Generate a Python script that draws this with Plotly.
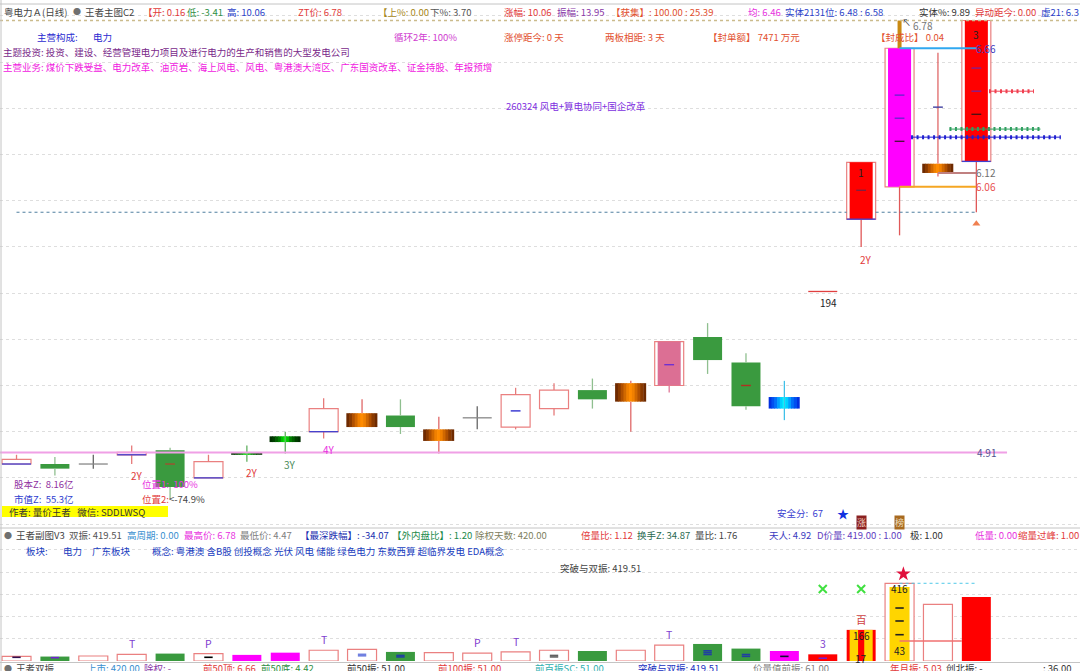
import plotly.graph_objects as go

# daily candles, prices
idx = list(range(26))
opens = [4.86, 4.86, 4.86, 4.90, 4.92, 4.80, 4.91, 4.98, 5.00, 5.02, 5.07, 4.96, 5.06, 5.02, 5.10, 5.18, 5.13, 5.20, 5.41, 5.30, 5.10, 5.607, 5.92, 6.06, 6.12, 6.17]
highs = [4.90, 4.89, 4.90, 4.94, 4.93, 4.90, 4.94, 5.00, 5.145, 5.14, 5.14, 5.065, 5.11, 5.19, 5.21, 5.23, 5.22, 5.39, 5.47, 5.34, 5.22, 5.607, 6.166, 6.78, 6.64, 6.78]
lows = [4.86, 4.81, 4.84, 4.86, 4.71, 4.80, 4.87, 4.905, 4.97, 5.02, 4.99, 4.905, 5.01, 5.01, 5.07, 5.10, 5.00, 5.17, 5.25, 5.095, 5.05, 5.607, 5.80, 5.85, 6.105, 5.95]
closes = [4.88, 4.84, 4.86, 4.91, 4.76, 4.87, 4.90, 4.955, 5.10, 5.08, 5.02, 5.01, 5.06, 5.16, 5.18, 5.14, 5.21, 5.39, 5.31, 5.11, 5.15, 5.607, 6.166, 6.66, 6.16, 6.78]
kinds = ["up", "down", "doji", "up", "down", "up", "ggrad", "ggrad", "up", "orange", "down", "orange", "doji", "up", "up", "down", "orange", "pink", "down", "down", "blue", "flat", "red", "magenta", "orange", "red"]

# little dashes inside the candles
dash_idx = [4, 13, 17, 19, 22, 23, 23, 23, 24, 25, 25, 25]
dash_price = [4.86, 5.09, 5.29, 5.20, 6.045, 6.457, 6.357, 6.257, 6.405, 6.574, 6.474, 6.374]
dash_color = ["#a05030", "#3030d0", "#7030d0", "#b03020", "#802040", "#7020d0", "#7020d0", "#501040", "#4040a0", "#802090", "#802090", "#501010"]

# bottom blue edge on these
blue_edge_idx = [0, 3, 5, 8, 22, 25]

# price levels: price, from, to
top_price = 6.78
support_price = 4.91
base_price = 5.95
level_price = [6.66, 6.06, 6.12]
level_from = [23, 23, 24]
level_to = [25, 25, 25]
level_color = ["#30a8f0", "#f5a623", "#c08080"]
mark_price = [6.474, 6.31, 6.275]
mark_from = [25.33, 24.3, 23.3]
mark_to = [26.5, 26.67, 27.2]
mark_color = ["#f04050", "#30a060", "#2020d0"]

# sub panel
volume = [25, 24, 27, 36, 40, 40, 33, 45, 58, 63, 49, 45, 43, 49, 58, 54, 58, 86, 92, 67, 54, 36, 168, 419.51, 306, 346]
vol_kinds = ["hollow", "green", "hollow", "hollow", "green", "hollow", "magenta", "magenta", "hollow", "hollow", "green", "hollow", "hollow", "hollow", "hollow", "green", "hollow", "hollow", "green", "green", "magenta", "red", "red", "hollow", "hollow", "red"]
inner_idx = [23]
inner_volume = [400]
vol_mark_idx = [3, 5, 8, 12, 13, 17, 21, 22]
vol_mark_text = ["T", "P", "T", "P", "T", "T", "3", "百"]
vol_dash_idx = [0, 1, 5, 9, 9, 10, 10, 14, 14, 18, 18, 18, 19, 19, 20, 21, 23, 23, 23]
vol_dash_val = [20, 18, 20, 36, 28, 30, 22, 30, 22, 55, 45, 35, 35, 25, 25, 15, 286, 216, 142]
vol_dash_color = ["#301050", "#7020d0", "#000000", "#7080e0", "#7080e0", "#2040a0", "#2040a0", "#606060", "#606060", "#2040a0", "#2040a0", "#2040a0", "#2040a0", "#2040a0", "#101030", "#7020d0", "#202020", "#202020", "#202020"]
cross_idx = [21, 22]
cross_val = [389, 389]
star_idx = [23.1]
star_val = [470]
ref_line_val = 108
peak_line_val = 419.51

RED = "#e23a3a"
ORANGE = "#e2502e"
BLUE = "#2b3fc8"
DARK = "#444444"
GREY = "#808080"
MAGENTA = "#e830e0"
PURPLE = "#8a3aa8"
GREEN = "#2f8f45"
FONT = "Noto Sans CJK SC"

BOX_W = 0.755
INNER_W = 0.6
GRAD_W = 0.8

wick_colors = {"up": "#e67a7a", "down": "#8fbf8f", "doji": "#666666", "orange": "#e06868", "ggrad": "#60b060",
               "blue": "#40c0e8", "pink": "#e07898", "red": "#e05858", "magenta": "#e05858"}
fills = {"pink": "#dc6f94", "red": "#ff0000", "magenta": "#ff00ff"}
gradients = {"orange": ["#6e2a00", "#8a3a00", "#b05000", "#d06800", "#f08000", "#ff8c00"],
             "ggrad": ["#003000", "#004000", "#006000", "#008000", "#00c000", "#00ff00"],
             "blue": ["#0030e0", "#0050f0", "#0070f8", "#00a0ff", "#00d0ff", "#00ffff"]}

fig = go.Figure()


def seg_trace(xs, ys, color, width, dash=None, yaxis="y"):
    fig.add_trace(go.Scatter(x=xs, y=ys, mode="lines", yaxis=yaxis, hoverinfo="skip",
                             line=dict(color=color, width=width, dash=dash)))


def label(px, py, text, color=DARK, size=9.5, **kw):
    fig.add_annotation(x=px / 1080, y=1 - py / 671, xref="paper", yref="paper", text=text, showarrow=False,
                       xanchor=kw.pop("xanchor", "left"), yanchor="middle", borderpad=0,
                       font=dict(family=FONT, size=size, color=kw.pop("fontcolor", color)), **kw)


# candle bodies
for kind in ["up", "down", "pink", "red", "magenta"]:
    sel = [i for i in idx if kinds[i] == kind]
    base = [min(opens[i], closes[i]) for i in sel]
    span = [abs(opens[i] - closes[i]) for i in sel]
    if kind == "down":
        fig.add_trace(go.Bar(x=sel, y=span, base=base, width=BOX_W, marker=dict(color="#3a9a3f", line=dict(width=0))))
        continue
    fig.add_trace(go.Bar(x=sel, y=span, base=base, width=BOX_W,
                         marker=dict(color="#ffffff", line=dict(color="#ea8080", width=1.2))))
    if kind in fills:
        fig.add_trace(go.Bar(x=sel, y=span, base=base, width=INNER_W, marker=dict(color=fills[kind], line=dict(width=0))))

# gradient bodies, built from thin strips
for i in idx:
    if kinds[i] in gradients:
        half = gradients[kinds[i]]
        cols = half + half[-2::-1]
        n = len(cols)
        w = GRAD_W / n
        # one bar per strip so each can overlap the next and hide the seams
        for k in range(n):
            fig.add_trace(go.Bar(x=[i - GRAD_W / 2 + w * (k + 0.5)], y=[abs(opens[i] - closes[i])],
                                 base=[min(opens[i], closes[i])], width=w * 1.25 if k < n - 1 else w,
                                 marker=dict(color=cols[k], line=dict(width=0))))

# wicks
for kind, col in wick_colors.items():
    xs, ys = [], []
    for i in idx:
        if kinds[i] != kind or (i == 23):
            continue
        top = max(opens[i], closes[i])
        bot = min(opens[i], closes[i])
        if kind in ("ggrad", "blue", "doji"):
            xs += [i, i, None]
            ys += [lows[i], highs[i], None]
        else:
            xs += [i, i, None, i, i, None]
            ys += [top, highs[i], None, bot, lows[i], None]
    seg_trace(xs, ys, col, 1.3)
seg_trace([23, 23], [lows[23], opens[23]], "#e05858", 1.3)
seg_trace([23, 23], [closes[23], highs[23]], "#c98a12", 4)

# doji and flat lines
for i in idx:
    if kinds[i] in ("doji", "flat"):
        seg_trace([i - BOX_W / 2, i + BOX_W / 2], [closes[i], closes[i]], "#888888" if kinds[i] == "doji" else "#e04040", 1.3)

# blue lower edges
for i in blue_edge_idx:
    b = min(opens[i], closes[i])
    seg_trace([i - BOX_W / 2, i + BOX_W / 2], [b, b], "#4040d0", 1.3)

fig.add_trace(go.Scatter(x=dash_idx, y=dash_price, mode="markers", hoverinfo="skip",
                         marker=dict(symbol="line-ew", size=7, color=dash_color, line=dict(color=dash_color, width=1.4))))

# level lines
seg_trace([-0.43, 27.7], [top_price, top_price], "#cbbb8c", 1.4, "dot")
seg_trace([-0.43, 25.8], [support_price, support_price], "#f0a0e6", 2)
# the dashed base line runs behind candle 22
seg_trace([0, 22 - BOX_W / 2, None, 22 + BOX_W / 2, 25], [base_price, base_price, None, base_price, base_price],
          "#4f7f9f", 1, "3px,3px")
for p, a, b, c in zip(level_price, level_from, level_to, level_color):
    seg_trace([a, b], [p, p], c, 2)
for p, a, b, c in zip(mark_price, mark_from, mark_to, mark_color):
    seg_trace([a, b], [p, p], c, 1)
    seg_trace([a, b], [p, p], c, 4, "2px,3.5px")
fig.add_trace(go.Scatter(x=[25], y=[5.90], mode="markers", hoverinfo="skip",
                         marker=dict(symbol="triangle-up", size=7, color="#f08050")))

# sub panel bars
for kind, col in [("green", "#3a9a3f"), ("magenta", "#ff00ff"), ("red", "#ff0000"), ("hollow", "#ffffff")]:
    sel = [i for i in idx if vol_kinds[i] == kind]
    lw = 1.2 if kind == "hollow" else 0
    fig.add_trace(go.Bar(x=sel, y=[volume[i] for i in sel], yaxis="y2", width=BOX_W,
                         marker=dict(color=col, line=dict(color="#ea8080", width=lw))))
fig.add_trace(go.Bar(x=inner_idx, y=inner_volume, yaxis="y2", width=0.52, marker=dict(color="#ffd500", line=dict(width=0))))
# yellow stripes on the limit-up bar
fig.add_trace(go.Bar(x=[22 - 0.19, 22 + 0.19], y=[volume[22]] * 2, yaxis="y2", width=0.22,
                     marker=dict(color="#ffd500", line=dict(width=0))))
seg_trace([23, 25 - BOX_W / 2], [ref_line_val, ref_line_val], "#f07070", 1.3, yaxis="y2")
seg_trace([23, 25], [peak_line_val, peak_line_val], "#50c8e8", 1, "dot", yaxis="y2")
fig.add_trace(go.Scatter(x=vol_dash_idx, y=vol_dash_val, yaxis="y2", mode="markers", hoverinfo="skip",
                         marker=dict(symbol="line-ew", size=6, color=vol_dash_color, line=dict(color=vol_dash_color, width=1.6))))
fig.add_trace(go.Scatter(x=cross_idx, y=cross_val, yaxis="y2", mode="markers", hoverinfo="skip",
                         marker=dict(symbol="x-thin", size=8, line=dict(color="#40e040", width=2))))
fig.add_trace(go.Scatter(x=star_idx, y=star_val, yaxis="y2", mode="markers", hoverinfo="skip",
                         marker=dict(symbol="star", size=11, color="#e0103c")))

for i, t in zip(vol_mark_idx, vol_mark_text):
    c = "#d04040" if t == "百" else "#8040d0"
    fig.add_annotation(x=i, y=volume[i], xref="x", yref="y2", text=t, showarrow=False, yanchor="bottom", yshift=1,
                       font=dict(family=FONT, size=10.5, color=c))
for i, v, t in [(22, 137, "166"), (22, 11, "17"), (23, 394, "416"), (23, 56, "43")]:
    fig.add_annotation(x=i, y=v, xref="x", yref="y2", text=t, showarrow=False, font=dict(family=FONT, size=10, color="#222222"))

# year tags under candles
for i, t, c, ys in [(3, "2Y", RED, -11), (6, "2Y", RED, -11), (7, "3Y", "#4a8a5a", -11), (8, "4Y", MAGENTA, -11), (22, "2Y", RED, -13)]:
    fig.add_annotation(x=i, y=lows[i], xref="x", yref="y", text=t, showarrow=False, xshift=5, yshift=ys,
                       font=dict(family=FONT, size=10, color=c))
for i, p, t, c in [(25, 6.66, "6.66", "#4040c0"), (25, 6.12, "6.12", "#707070"), (25, 6.06, "6.06", "#e85050"), (25, 4.91, "4.91", "#505090")]:
    fig.add_annotation(x=i, y=p, xref="x", yref="y", text=t, showarrow=False, xanchor="center", xshift=10,
                       font=dict(family=FONT, size=10, color=c))
fig.add_annotation(x=23, y=6.77, xref="x", yref="y", text="↖", showarrow=False, xshift=7, font=dict(family=FONT, size=9, color="#333333"))
fig.add_annotation(x=23, y=6.76, xref="x", yref="y", text="6.78", showarrow=False, xanchor="left", xshift=11, font=dict(family=FONT, size=10, color="#777777"))
fig.add_annotation(x=22, y=6.12, xref="x", yref="y", text="1", showarrow=False, font=dict(family=FONT, size=10, color="#222222"))
fig.add_annotation(x=25, y=6.72, xref="x", yref="y", text="3", showarrow=False, font=dict(family=FONT, size=10, color="#222222"))
fig.add_annotation(x=21, y=closes[21], xref="x", yref="y", text="194", showarrow=False, xshift=6, yshift=-11, font=dict(family=FONT, size=10, color="#222222"))

# top header
label(3, 12, "粤电力Ａ(日线)", DARK)
label(72, 12, "●", "#707070", 8)
label(84, 12, "王者主图C2", DARK)
label(142, 12, "【开: 0.16", RED)
label(186, 12, "低: -3.41", GREEN)
label(226, 12, "高: 10.06", BLUE)
label(297, 12, "ZT价: 6.78", RED)
label(377, 12, "【上%: 0.00", "#a88820")
label(429, 12, "下%: 3.70", "#555555")
label(503, 12, "涨幅: 10.06", RED)
label(556, 12, "振幅: 13.95", PURPLE)
label(610, 12, "【获集】: 100.00 : 25.39", ORANGE)
label(747, 12, "均: 6.46", MAGENTA)
label(784, 12, "实体2131位: 6.48 : 6.58", BLUE)
label(918, 12, "实体%: 9.89", "#333333")
label(974, 12, "异动距今: 0.00", RED)
label(1040, 12, "虚21: 6.3", BLUE)

label(36, 37, "主营构成:", "#2a2ad0")
label(92, 37, "电力", "#2a2ad0")
label(393, 37, "循环2年: 100%", "#d040d0")
label(503, 37, "涨停距今: 0 天", ORANGE)
label(604, 37, "两板相距: 3 天", ORANGE)
label(707, 37, "【封单额】 7471 万元", ORANGE)
label(875, 37, "【封成比】 0.04", ORANGE)
label(2, 52, "主题投资: 投资、建设、经营管理电力项目及进行电力的生产和销售的大型发电公司", "#7a2a8a")
label(2, 67, "主营业务: 煤价下跌受益、电力改革、油页岩、海上风电、风电、粤港澳大湾区、广东国资改革、证金持股、年报预增", "#f020e0")
label(505, 106, "260324 风电+算电协同+国企改革", "#8030e0")

# lower left notes
label(13, 484, "股本Z:  8.16亿", "#9030a0")
label(13, 499, "市值Z:  55.3亿", "#3040d0")
label(141, 484, "位置1:  100%", MAGENTA)
label(141, 499, "位置2:", RED)
label(168, 499, "<-74.9%", "#444444")
label(8, 512, "作者: 量价王者   微信: SDDLWSQ", "#333333")
label(776, 513, "安全分:  67", "#3a40d0")
label(836, 513, "★", "#1030e0", 12)
label(856, 522, "涨", "#8a2020", 9, fontcolor="#f0d0c0", bgcolor="#8a2020")
label(894, 522, "榜", "#a06010", 9, fontcolor="#f0e0c0", bgcolor="#a86a20")

# sub panel header
label(3, 535, "●", "#707070", 8)
label(15, 535, "王者副图V3", DARK)
label(68, 535, "双振: 419.51", "#555555")
label(126, 535, "高周期: 0.00", "#3a8fd0")
label(183, 535, "最高价: 6.78", MAGENTA)
label(239, 535, "最低价: 4.47", GREY)
label(299, 535, "【最深跌幅】: -34.07", "#1a30b0")
label(391, 535, "【外内盘比】: 1.20", "#1a8a4a")
label(474, 535, "除权天数: 420.00", "#808060")
label(580, 535, "倍量比: 1.12", RED)
label(636, 535, "换手Z: 34.87", "#2a6a50")
label(694, 535, "量比: 1.76", "#444444")
label(768, 535, "天人: 4.92", "#3a3ac0")
label(816, 535, "D价量: 419.00 : 1.00", "#6040c0")
label(909, 535, "极: 1.00", "#333333")
label(974, 535, "低量: 0.00", MAGENTA)
label(1017, 535, "缩量过峰: 1.00", RED)

label(25, 551, "板块:", "#2040c0")
label(62, 551, "电力", "#2040c0")
label(91, 551, "广东板块", "#2040c0")
label(151, 551, "概念: 粤港澳 含B股 创投概念 光伏 风电 储能 绿色电力 东数西算 超临界发电 EDA概念", "#2040c0")
label(559, 568, "突破与双振: 419.51", "#444444")

# bottom strip, cut by the window edge
label(3, 668, "●", "#707070", 8)
label(15, 668, "王者双振", DARK)
label(86, 668, "上市: 420.00", "#3a8fd0")
label(143, 668, "除权: -", PURPLE)
label(202, 668, "前50顶: 6.66", RED)
label(260, 668, "前50底: 4.42", GREEN)
label(346, 668, "前50振: 51.00", "#333333")
label(437, 668, "前100振: 51.00", RED)
label(534, 668, "前百振SC: 51.00", "#30b0b0")
label(637, 668, "突破与双振: 419.51", "#2030c0")
label(752, 668, "价量值前振: 61.00", GREY)
label(889, 668, "年月振: 5.03", RED)
label(945, 668, "创北振: -", "#333333")
label(1042, 668, ": 36.00", "#333333")

frame = dict(type="line", xref="paper", yref="paper", line=dict(color="#c4c4c4", width=1))
shapes = [
    dict(frame, x0=0, x1=1, y0=1 - 4 / 671, y1=1 - 4 / 671),
    dict(frame, x0=0, x1=1, y0=1 - 528 / 671, y1=1 - 528 / 671),
    dict(frame, x0=0, x1=1, y0=1 - 662.5 / 671, y1=1 - 662.5 / 671),
    dict(frame, x0=1 / 1080, x1=1 / 1080, y0=0, y1=1),
    # yellow author strip
    dict(type="rect", xref="paper", yref="paper", x0=2 / 1080, x1=168 / 1080, y0=1 - 517 / 671, y1=1 - 506 / 671,
         fillcolor="#ffff00", line=dict(width=0)),
]

grid = dict(showgrid=True, griddash="dot", gridcolor="#dedede", gridwidth=1, showticklabels=False, zeroline=False,
            showline=False, ticks="")
fig.update_layout(
    width=1080, height=671, margin=dict(l=0, r=0, t=0, b=0), showlegend=False, barmode="overlay",
    paper_bgcolor="#ffffff", plot_bgcolor="#ffffff", shapes=shapes,
    xaxis=dict(visible=False, range=[-0.43, 27.7], domain=[0, 1]),
    yaxis=dict(grid, domain=[143 / 671, 667 / 671], range=[4.583, 6.8515], tick0=4.6, dtick=0.2),
    yaxis2=dict(grid, domain=[10 / 671, 143 / 671], range=[0, 718], tick0=0, dtick=120),
)

fig.write_html("out.html", config={"displayModeBar": False},
               post_script="document.body.style.margin='0';document.documentElement.style.overflow='hidden';")
